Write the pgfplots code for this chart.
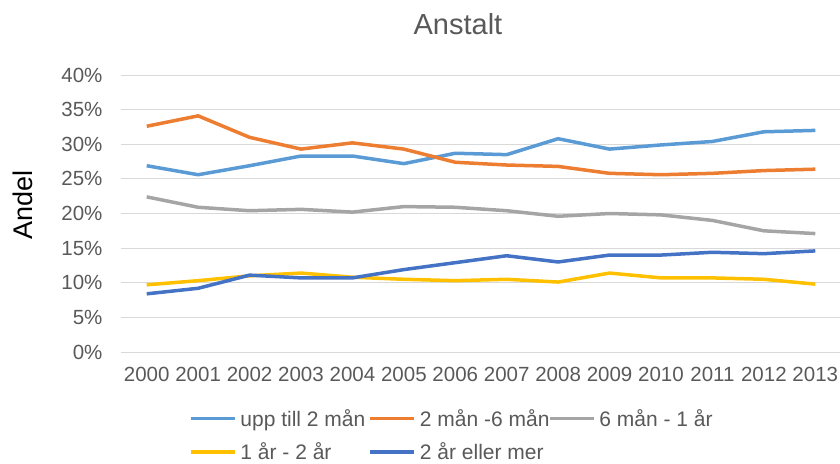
\documentclass[border=0pt]{standalone}
\usepackage{pgfplots}
\pgfplotsset{compat=1.18}
\usepackage{fontspec}
\setmainfont{Liberation Sans}

\definecolor{upptill}{HTML}{5B9BD5}
\definecolor{tvasex}{HTML}{ED7D31}
\definecolor{sexett}{HTML}{A5A5A5}
\definecolor{etttva}{HTML}{FFC000}
\definecolor{tvamer}{HTML}{4472C4}
\definecolor{gridgray}{HTML}{D9D9D9}
\definecolor{labelgray}{HTML}{595959}

\newcommand{\entry}[1]{\makebox[124pt][l]{#1}}

\begin{document}
\begin{tikzpicture}
\begin{axis}[
    name=ax,
    width=720pt, height=277pt, scale only axis,
    xmin=1999.5, xmax=2013.5, ymin=0, ymax=40,
    xtick={2000,2001,2002,2003,2004,2005,2006,2007,2008,2009,2010,2011,2012,2013},
    xticklabels={2000,2001,2002,2003,2004,2005,2006,2007,2008,2009,2010,2011,2012,2013},
    ytick={0,5,10,15,20,25,30,35,40},
    yticklabels={0\%,5\%,10\%,15\%,20\%,25\%,30\%,35\%,40\%},
    axis line style={draw=none},
    major tick length=0pt,
    ymajorgrids,
    grid style={color=gridgray, line width=1pt},
    tick label style={font=\fontsize{20.5}{20.5}\selectfont, text=labelgray},
    xticklabel style={yshift=-12pt},
    yticklabel style={xshift=-15pt},
    title={Anstalt},
    title style={at={(axis description cs:0.468,1.126)}, anchor=base,
        font=\fontsize{29}{29}\selectfont, text=labelgray},
    ylabel={Andel},
    ylabel style={at={(axis description cs:-0.136,0.532)}, anchor=center,
        font=\fontsize{27}{27}\selectfont, text=black},
    legend style={draw=none, fill=none, legend columns=3,
        at={(axis description cs:0.0899,-0.191)}, anchor=north west,
        font=\fontsize{21}{21}\selectfont, text=labelgray, row sep=11pt,
        column sep=0pt, nodes={inner xsep=4pt}},
    legend cell align=left,
    legend image code/.code={\draw[#1] (0pt,0pt) -- (44pt,0pt);},
    every axis plot/.append style={line width=3.5pt, line join=round, no markers},
]
\addplot[upptill] coordinates {
    (2000,26.9)(2001,25.6)(2002,26.9)(2003,28.3)(2004,28.3)(2005,27.2)(2006,28.7)
    (2007,28.5)(2008,30.8)(2009,29.3)(2010,29.9)(2011,30.4)(2012,31.8)(2013,32.0)
};
\addplot[tvasex] coordinates {
    (2000,32.6)(2001,34.1)(2002,31.0)(2003,29.3)(2004,30.2)(2005,29.3)(2006,27.4)
    (2007,27.0)(2008,26.8)(2009,25.8)(2010,25.6)(2011,25.8)(2012,26.2)(2013,26.4)
};
\addplot[sexett] coordinates {
    (2000,22.4)(2001,20.9)(2002,20.4)(2003,20.6)(2004,20.2)(2005,21.0)(2006,20.9)
    (2007,20.4)(2008,19.6)(2009,20.0)(2010,19.8)(2011,19.0)(2012,17.5)(2013,17.1)
};
\addplot[etttva] coordinates {
    (2000,9.7)(2001,10.3)(2002,11.0)(2003,11.4)(2004,10.8)(2005,10.5)(2006,10.3)
    (2007,10.5)(2008,10.1)(2009,11.4)(2010,10.7)(2011,10.7)(2012,10.5)(2013,9.8)
};
\addplot[tvamer] coordinates {
    (2000,8.4)(2001,9.2)(2002,11.1)(2003,10.7)(2004,10.7)(2005,11.9)(2006,12.9)
    (2007,13.9)(2008,13.0)(2009,14.0)(2010,14.0)(2011,14.4)(2012,14.2)(2013,14.6)
};
\legend{\entry{upp till 2 mån}, \entry{2 mån -6 mån}, \entry{6 mån - 1 år},
    \entry{1 år - 2 år}, \entry{2 år eller mer}}
\end{axis}
\pgfresetboundingbox
\path ([shift={(-121pt,-111pt)}]ax.south west) rectangle ([shift={(-1pt,75pt)}]ax.north east);
\end{tikzpicture}
\end{document}
